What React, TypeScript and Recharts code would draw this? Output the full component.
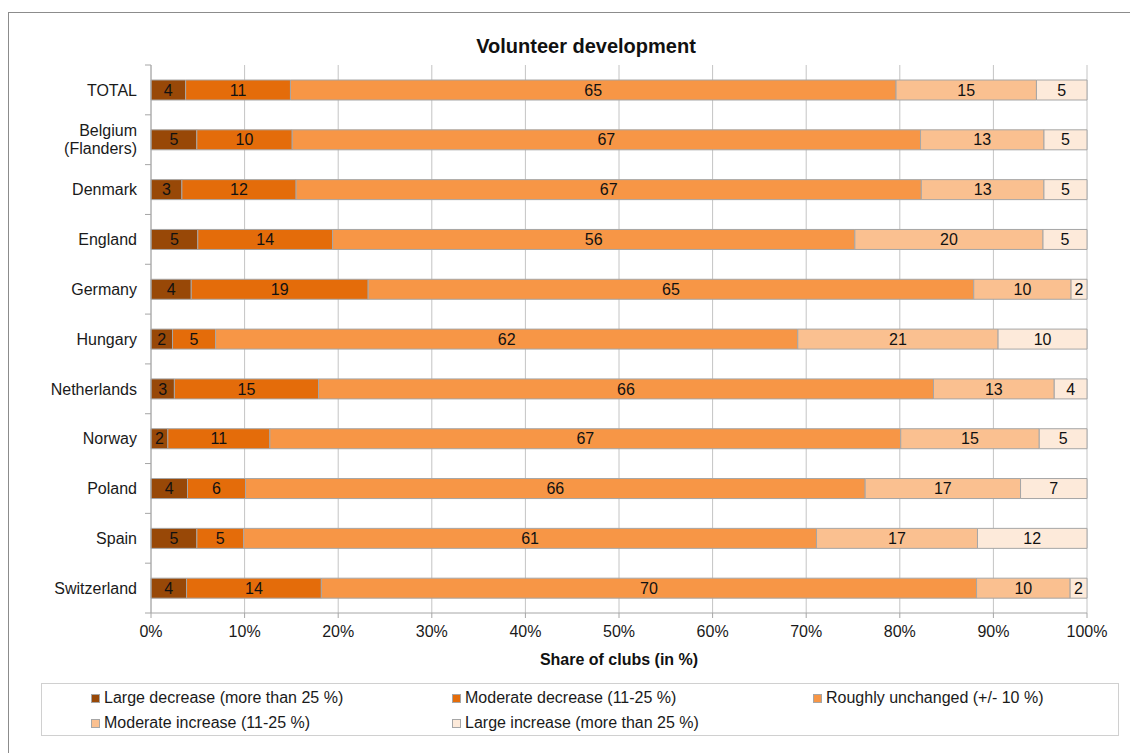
import React from 'react';
import { BarChart, Bar, XAxis, YAxis, CartesianGrid, LabelList, Label } from 'recharts';

const categories = ['TOTAL', 'Belgium (Flanders)', 'Denmark', 'England', 'Germany', 'Hungary', 'Netherlands', 'Norway', 'Poland', 'Spain', 'Switzerland'];
const largeDecrease = [3.7, 4.9, 3.3, 5.0, 4.3, 2.3, 2.5, 1.8, 3.9, 4.9, 3.8];
const moderateDecrease = [11.2, 10.2, 12.2, 14.4, 18.9, 4.6, 15.4, 10.9, 6.2, 5.0, 14.4];
const roughlyUnchanged = [64.7, 67.2, 66.8, 55.8, 64.7, 62.2, 65.7, 67.4, 66.2, 61.2, 70.0];
const moderateIncrease = [15.0, 13.2, 13.1, 20.1, 10.4, 21.4, 12.9, 14.8, 16.6, 17.2, 10.0];
const largeIncrease = [5.4, 4.6, 4.6, 4.7, 1.7, 9.5, 3.5, 5.1, 7.1, 11.7, 1.8];

const seriesKeys = ['large', 'modDec', 'unchanged', 'modInc', 'largeInc'];
const seriesNames = [
  'Large decrease (more than 25 %)',
  'Moderate decrease (11-25 %)',
  'Roughly unchanged (+/- 10 %)',
  'Moderate increase (11-25 %)',
  'Large increase (more than 25 %)',
];
const seriesColors = ['#984807', '#E46C0A', '#F79646', '#FAC090', '#FDEADA'];
const seriesValues = [largeDecrease, moderateDecrease, roughlyUnchanged, moderateIncrease, largeIncrease];
const xTicks = [0, 0.1, 0.2, 0.3, 0.4, 0.5, 0.6, 0.7, 0.8, 0.9, 1];

const data = categories.map((c, i) => {
  const row: any = { name: c };
  seriesKeys.forEach((k, s) => { row[k] = seriesValues[s][i]; });
  return row;
});

const W = 1130;
const H = 753;
const M = { top: 65, right: 43, bottom: 110, left: 8 };
const X_AXIS_H = 30;
const PLOT_H = H - M.top - M.bottom - X_AXIS_H;
const FONT = '"Liberation Sans", Arial, sans-serif';

const YTick = (props: any) => {
  const { x, y, payload, index, visibleTicksCount } = props;
  const band = PLOT_H / (visibleTicksCount || categories.length);
  const label: string = String(payload.value);
  const parts = label.includes(' (') ? [label.slice(0, label.indexOf(' (')), label.slice(label.indexOf(' (') + 1)] : [label];
  const axisX = x + 14;
  const lineH = 18;
  const startY = y - ((parts.length - 1) * lineH) / 2;
  return (
    <g>
      <line x1={axisX - 6} x2={axisX} y1={y - band / 2} y2={y - band / 2} stroke="#a6a6a6" />
      {index === (visibleTicksCount || categories.length) - 1 && (
        <line x1={axisX - 6} x2={axisX} y1={y + band / 2} y2={y + band / 2} stroke="#a6a6a6" />
      )}
      <text x={x} textAnchor="end" fontSize={16} fill="#1a1a1a" fontFamily={FONT}>
        {parts.map((p, i) => (
          <tspan key={i} x={x} y={startY + i * lineH} dy="0.36em">{p}</tspan>
        ))}
      </text>
    </g>
  );
};

export default function App() {
  return (
    <div style={{ position: 'absolute', left: 0, top: 0, width: W, height: H, background: '#fff', overflow: 'hidden', fontFamily: FONT }}>
      <div style={{ position: 'absolute', left: 8, top: 12, width: W, height: H, borderLeft: '1px solid #8c8c8c', borderTop: '1px solid #8c8c8c' }} />
      <div style={{ position: 'absolute', left: 0, width: 1172, top: 33, textAlign: 'center', fontSize: 20, fontWeight: 'bold', color: '#111', lineHeight: '26px' }}>
        Volunteer development
      </div>
      <div style={{ position: 'absolute', left: 0, top: 0 }}>
        <BarChart
          width={W}
          height={H}
          data={data}
          layout="vertical"
          stackOffset="expand"
          margin={M}
          barSize={20}
        >
          <CartesianGrid horizontal={false} stroke="#c4c4c4" strokeWidth={1} />
          <XAxis
            type="number"
            domain={[0, 1]}
            ticks={xTicks}
            tickFormatter={(v: number) => `${Math.round(v * 100)}%`}
            height={X_AXIS_H}
            tickSize={5}
            tickMargin={8}
            stroke="#a6a6a6"
            tick={{ fill: '#1a1a1a', fontSize: 16, fontFamily: FONT }}
            interval={0}
          >
            <Label
              value="Share of clubs (in %)"
              position="bottom"
              offset={11}
              style={{ fontWeight: 'bold', fontSize: 16, fill: '#111', fontFamily: FONT }}
            />
          </XAxis>
          <YAxis
            type="category"
            dataKey="name"
            width={143}
            tickLine={false}
            tickMargin={0}
            tickSize={14}
            stroke="#a6a6a6"
            tick={<YTick />}
            interval={0}
          />
          {seriesKeys.map((k, s) => (
            <Bar
              key={k}
              dataKey={k}
              stackId="a"
              fill={seriesColors[s]}
              stroke="#a6a6a6"
              strokeWidth={1}
              isAnimationActive={false}
              name={seriesNames[s]}
            >
              <LabelList
                dataKey={k}
                position="center"
                fill="#111"
                fontSize={16}
                fontFamily={FONT}
                formatter={(v: any) => Math.round(Number(v))}
              />
            </Bar>
          ))}
        </BarChart>
      </div>
      <div style={{ position: 'absolute', left: 41, top: 683, width: 1078, height: 53, boxSizing: 'border-box', border: '1px solid #d0d0d0' }}>
        {seriesNames.map((n, s) => {
          const col = s % 3;
          const row = Math.floor(s / 3);
          return (
            <div key={n} style={{ position: 'absolute', left: 49 + col * 361, top: 4 + row * 25, height: 20, display: 'flex', alignItems: 'center', fontSize: 16, color: '#1a1a1a', whiteSpace: 'nowrap' }}>
              <span style={{ display: 'inline-block', width: 9, height: 9, background: seriesColors[s], border: '1px solid #a6a6a6', boxSizing: 'border-box', marginRight: 4 }} />
              {n}
            </div>
          );
        })}
      </div>
    </div>
  );
}
